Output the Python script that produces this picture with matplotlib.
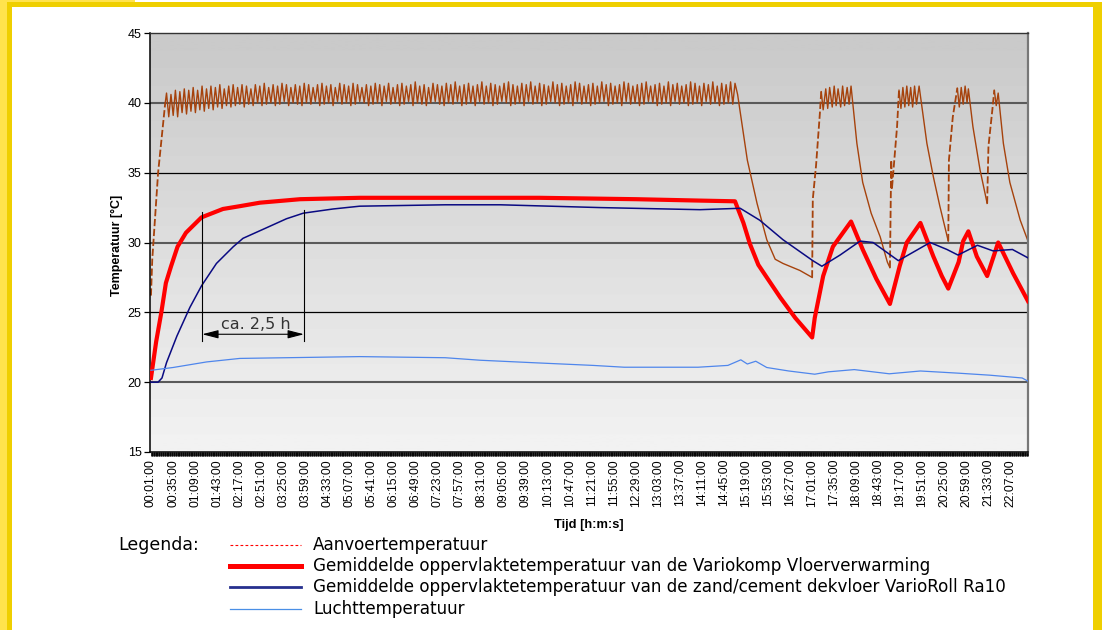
import matplotlib
matplotlib.use("Agg")
import matplotlib.pyplot as plt
import numpy as np
from matplotlib.colors import LinearSegmentedColormap
from matplotlib.lines import Line2D
from matplotlib.patches import Rectangle

W, H = 1107, 630

# ---- data, time in minutes since 00:00 ----
tick_labels = [
    "00:01:00", "00:35:00", "01:09:00", "01:43:00", "02:17:00", "02:51:00",
    "03:25:00", "03:59:00", "04:33:00", "05:07:00", "05:41:00", "06:15:00",
    "06:49:00", "07:23:00", "07:57:00", "08:31:00", "09:05:00", "09:39:00",
    "10:13:00", "10:47:00", "11:21:00", "11:55:00", "12:29:00", "13:03:00",
    "13:37:00", "14:11:00", "14:45:00", "15:19:00", "15:53:00", "16:27:00",
    "17:01:00", "17:35:00", "18:09:00", "18:43:00", "19:17:00", "19:51:00",
    "20:25:00", "20:59:00", "21:33:00", "22:07:00",
]

# Gemiddelde oppervlaktetemperatuur Variokomp (red, thick)
red_t = [1, 9, 17, 24, 32, 42, 55, 79, 112, 138, 169, 231, 323, 450, 600, 750,
         848, 902, 915, 925, 938, 951, 972, 995, 1021, 1025, 1038, 1053, 1081,
         1099, 1120, 1141, 1156, 1167, 1188, 1208, 1221, 1231, 1247, 1254, 1262,
         1275, 1291, 1308, 1331, 1354]
red_v = [20.3, 22.9, 25.0, 27.1, 28.3, 29.7, 30.7, 31.8, 32.4, 32.6, 32.85, 33.1,
         33.2, 33.2, 33.2, 33.1, 33.0, 32.95, 31.4, 29.9, 28.4, 27.5, 26.05, 24.6,
         23.2, 24.6, 27.6, 29.7, 31.5, 29.5, 27.4, 25.6, 28.3, 30.0, 31.4, 29.0,
         27.6, 26.7, 28.6, 30.1, 30.8, 29.0, 27.6, 30.0, 27.8, 25.8]

# Gemiddelde oppervlaktetemperatuur zand/cement VarioRoll Ra10 (navy)
navy_t = [1, 12, 18, 25, 41, 61, 79, 102, 128, 143, 179, 210, 236, 282, 323, 455,
          540, 694, 848, 910, 940, 976, 1022, 1036, 1064, 1095, 1115, 1154, 1203,
          1229, 1246, 1276, 1300, 1330, 1354]
navy_v = [20.0, 20.0, 20.3, 21.4, 23.3, 25.35, 26.9, 28.5, 29.7, 30.3, 31.05, 31.7,
          32.1, 32.4, 32.6, 32.7, 32.7, 32.5, 32.35, 32.45, 31.6, 30.2, 28.7, 28.3,
          29.1, 30.1, 30.0, 28.7, 30.0, 29.5, 29.1, 29.8, 29.4, 29.5, 28.9]

# Luchttemperatuur (light blue)
air_t = [1, 35, 87, 138, 323, 455, 509, 597, 683, 731, 845, 891, 911, 921, 934,
         951, 985, 1025, 1046, 1086, 1140, 1188, 1248, 1295, 1345, 1354]
air_v = [20.85, 21.05, 21.45, 21.7, 21.83, 21.75, 21.57, 21.38, 21.2, 21.07, 21.07,
         21.2, 21.6, 21.3, 21.5, 21.05, 20.8, 20.57, 20.74, 20.9, 20.6, 20.8, 20.64,
         20.5, 20.3, 20.07]

# Aanvoertemperatuur (brown): start-up, long zigzag plateau, then the on/off cycles
supply_head_t = [1, 3, 12, 23]
supply_head_v = [26.2, 28.8, 35.0, 40.0]
plateau_start, plateau_end = 25, 902
plateau_peaks = [
    40.7, 40.6, 40.9, 40.8, 41.0, 40.9, 41.1, 40.9, 41.2, 41.0,
    41.2, 41.1, 41.3, 41.0, 41.2, 41.3, 41.1, 41.3, 41.2, 41.0,
    41.3, 41.2, 41.4, 41.1, 41.3, 41.2, 41.4, 41.3, 41.1, 41.3,
    41.2, 41.4, 41.3, 41.1, 41.3, 41.4, 41.2, 41.3, 41.1, 41.4,
    41.3, 41.2, 41.4, 41.3, 41.1, 41.3, 41.2, 41.4, 41.3, 41.2,
    41.4, 41.1, 41.3, 41.4, 41.2, 41.3, 41.5, 41.2, 41.3, 41.1,
    41.4, 41.3, 41.2, 41.4, 41.3, 41.5, 41.2, 41.3, 41.4, 41.2,
    41.3, 41.5, 41.2, 41.4, 41.3, 41.2, 41.4, 41.5, 41.3, 41.2,
    41.4, 41.3, 41.5, 41.2, 41.4, 41.3, 41.2, 41.5, 41.3, 41.4,
    41.2, 41.3, 41.5, 41.4, 41.2, 41.3, 41.4, 41.2, 41.5, 41.3,
    41.4, 41.2, 41.3, 41.5, 41.4, 41.2, 41.3, 41.4, 41.5, 41.2,
    41.3, 41.4, 41.2, 41.5, 41.3, 41.4, 41.2, 41.3, 41.5, 41.4,
    41.2, 41.4, 41.3, 41.5, 41.2, 41.4, 41.3, 41.5, 41.4,
]
plateau_troughs = [
    39.0, 39.1, 39.0, 39.3, 39.2, 39.4, 39.3, 39.5, 39.4, 39.6,
    39.5, 39.7, 39.6, 39.8, 39.7, 39.8, 39.9, 39.7, 39.9, 39.8,
    40.0, 39.8, 39.9, 40.0, 39.8, 39.9, 40.1, 39.8, 40.0, 39.9,
    39.8, 40.0, 39.9, 40.1, 39.8, 39.9, 40.0, 39.8, 40.1, 39.9,
    40.0, 39.8, 39.9, 40.1, 40.0, 39.8, 39.9, 40.0, 39.8, 40.1,
    39.9, 40.0, 39.8, 39.9, 40.1, 39.8, 40.0, 39.9, 39.8, 40.0,
    40.1, 39.9, 39.8, 40.0, 39.9, 40.1, 39.8, 39.9, 40.0, 39.8,
    40.1, 39.9, 40.0, 39.8, 39.9, 40.1, 40.0, 39.8, 39.9, 40.0,
    39.8, 40.1, 39.9, 40.0, 39.8, 39.9, 40.1, 40.0, 39.8, 39.9,
    40.0, 39.8, 40.1, 39.9, 40.0, 39.8, 39.9, 40.0, 40.1, 39.8,
    39.9, 40.0, 39.8, 40.1, 39.9, 40.0, 39.8, 39.9, 40.1, 40.0,
    39.8, 39.9, 40.0, 39.8, 40.1, 39.9, 40.0, 39.8, 39.9, 40.0,
    39.8, 40.1, 39.9, 40.0, 39.8, 39.9, 40.0, 39.9,
]
supply_tail_t = [906, 921, 936, 951, 964, 976, 1002, 1021,
                 1022, 1027, 1033, 1035,
                 1038, 1042, 1045, 1048, 1052, 1055, 1058, 1061, 1065, 1068, 1071, 1075, 1078, 1081,
                 1090, 1099, 1112, 1126, 1137, 1141,
                 1143, 1144, 1152, 1155,
                 1158, 1161, 1164, 1167, 1170, 1173, 1176, 1179, 1182, 1186,
                 1198, 1208, 1218, 1231,
                 1232, 1238, 1245,
                 1248, 1251, 1254, 1257, 1260, 1262,
                 1269, 1280, 1291,
                 1293, 1299, 1302,
                 1305, 1308,
                 1316, 1326, 1342, 1354]
supply_tail_v = [40.6, 35.9, 32.8, 30.2, 28.8, 28.5, 28.0, 27.5,
                 33.1, 35.5, 39.3, 40.8,
                 39.5, 41.0, 39.6, 41.1, 39.7, 41.2, 39.8, 41.0, 39.7, 41.2, 39.8, 41.1, 39.9, 41.2,
                 37.1, 34.3, 32.1, 30.4, 28.6, 28.2,
                 35.9, 33.8, 38.3, 40.9,
                 39.6, 41.1, 39.7, 41.2, 39.8, 41.1, 39.7, 41.2, 39.9, 41.2,
                 37.1, 34.7, 32.6, 30.1,
                 35.9, 39.0, 41.05,
                 39.7, 41.1, 39.9, 41.2, 40.0, 41.0,
                 38.3, 35.2, 32.8,
                 36.9, 39.5, 40.9,
                 39.8, 40.7,
                 37.1, 34.3, 31.6, 30.1]
# steep warm-up stretches drawn dashed, as in the original
dashed_spans = [(1, 23), (1021, 1035), (1141, 1155), (1231, 1245), (1291, 1302)]

# ---- assemble the supply series ----
zig_v = [plateau_peaks[0]]
for tr, pk in zip(plateau_troughs, plateau_peaks[1:]):
    zig_v += [tr, pk]
zig_t = list(np.linspace(plateau_start, plateau_end, len(zig_v)))
sup_t = np.array(supply_head_t + zig_t + supply_tail_t, dtype=float)
sup_v = np.array(supply_head_v + zig_v + supply_tail_v, dtype=float)

BROWN = "#A6420C"
RED = "#FF0000"
NAVY = "#0A0A82"
AIR = "#4F86EC"

plt.rcParams["font.family"] = ["Liberation Sans", "DejaVu Sans"]

fig = plt.figure(figsize=(W / 100, H / 100), dpi=100)
fig.patch.set_facecolor("white")


def px(x, y):
    return x / W, 1 - y / H


# yellow frame
GOLD = "#EFCF00"
LIGHT = "#FFE34D"
for (x0, y0, x1, y1, c) in [(0, 0, 135, 3, LIGHT), (0, 0, 7, H, LIGHT),
                            (7, 2, 1102, 7, GOLD), (7, 2, 12, H, GOLD),
                            (1093, 2, 1102, H, GOLD)]:
    fig.patches.append(Rectangle((x0 / W, 1 - y1 / H), (x1 - x0) / W, (y1 - y0) / H,
                                 transform=fig.transFigure, color=c, lw=0, zorder=0))

l, r, t, b = 150, 1028, 33, 452
ax = fig.add_axes([l / W, 1 - b / H, (r - l) / W, (b - t) / H])
xmin, xmax = -0.5, 1354
ax.set_xlim(xmin, xmax)
ax.set_ylim(15, 45)

# banded grey gradient background
cmap = LinearSegmentedColormap.from_list("bg", ["#F2F2F2", "#CACACA"])
bands = np.floor(np.linspace(0, 1, 300) * 24) / 23
ax.imshow(bands[:, None], extent=[xmin, xmax, 15, 45], origin="lower",
          aspect="auto", cmap=cmap, vmin=0, vmax=1, zorder=0)

for yv in (20, 25, 30, 35, 40):
    if yv in (20, 30, 40):
        ax.axhline(yv, color="#5A5A5A", lw=1.5, zorder=1)
    else:
        ax.axhline(yv, color="black", lw=0.9, zorder=1)

# supply line: solid, with dashed warm-up stretches
solid_v = sup_v.copy()
for a, bb in dashed_spans:
    solid_v[(sup_t > a) & (sup_t < bb)] = np.nan
ax.plot(sup_t, solid_v, color=BROWN, lw=1.0, zorder=2)
for a, bb in dashed_spans:
    m = (sup_t >= a) & (sup_t <= bb)
    ax.plot(sup_t[m], sup_v[m], color=BROWN, lw=1.3, dashes=(4, 1.5), zorder=2)

ax.plot(red_t, red_v, color=RED, lw=3.0, solid_joinstyle="round", zorder=3)
ax.plot(navy_t, navy_v, color=NAVY, lw=1.1, zorder=4)
ax.plot(air_t, air_v, color=AIR, lw=0.9, zorder=5)

# "ca. 2,5 h" annotation
ax.plot([80, 80], [22.93, 32.2], color="black", lw=0.8, zorder=6)
ax.plot([237, 237], [22.93, 32.36], color="black", lw=0.8, zorder=6)
ax.annotate("", xy=(80, 23.43), xytext=(237, 23.43),
            arrowprops=dict(arrowstyle="<|-|>,head_length=0.7,head_width=0.18",
                            color="black", lw=0.8, mutation_scale=14,
                            shrinkA=0, shrinkB=0), zorder=6)
ax.text(163, 24.14, "ca. 2,5 h", ha="center", va="center", fontsize=11.5,
        family="DejaVu Sans", color="#333333", zorder=6)

# axes styling
tick_pos = [int(s[:2]) * 60 + int(s[3:5]) for s in tick_labels]
ax.set_xticks(tick_pos)
ax.set_xticklabels(tick_labels, rotation=90, fontsize=8.7)
ax.set_xticks(np.arange(1, 1355, 1), minor=True)
ax.tick_params(axis="x", which="both", direction="out", length=3, width=0.6,
               pad=2, color="black")
ax.set_yticks([15, 20, 25, 30, 35, 40, 45])
ax.tick_params(axis="y", direction="out", length=4, width=0.9, labelsize=9, pad=2)
for side in ("left", "bottom"):
    ax.spines[side].set_color("black")
    ax.spines[side].set_linewidth(1.1)
ax.spines["top"].set_color("#333333")
ax.spines["top"].set_linewidth(1.0)
ax.spines["right"].set_color("#777777")
ax.spines["right"].set_linewidth(1.6)

fig.text(*px(117, 245), "Temperatuur [°C]", rotation=90, ha="center", va="center",
         fontsize=9, fontweight="bold")
fig.text(*px(589, 525), "Tijd [h:m:s]", ha="center", va="center",
         fontsize=9.3, fontweight="bold")

# hand-made legend below the chart
LEG_FONT = "DejaVu Sans"
LEG_SIZE = 12.1
fig.text(*px(118, 545), "Legenda:", ha="left", va="center", fontsize=LEG_SIZE + 0.4,
         family=LEG_FONT)
legend_rows = [
    (545, dict(color=RED, lw=0.8, dashes=(2.5, 2)), "Aanvoertemperatuur"),
    (566, dict(color=RED, lw=3.6), "Gemiddelde oppervlaktetemperatuur van de Variokomp Vloerverwarming"),
    (587, dict(color="#26308E", lw=2.0), "Gemiddelde oppervlaktetemperatuur van de zand/cement dekvloer VarioRoll Ra10"),
    (609, dict(color="#4A8FE6", lw=0.9), "Luchttemperatuur"),
]
for yy, style, label in legend_rows:
    x0, y0 = px(230, yy)
    x1, _ = px(301, yy)
    fig.add_artist(Line2D([x0, x1], [y0, y0], transform=fig.transFigure, **style))
    fig.text(*px(313, yy), label, ha="left", va="center", fontsize=LEG_SIZE,
             family=LEG_FONT)

fig.savefig("out.png", dpi=100)
